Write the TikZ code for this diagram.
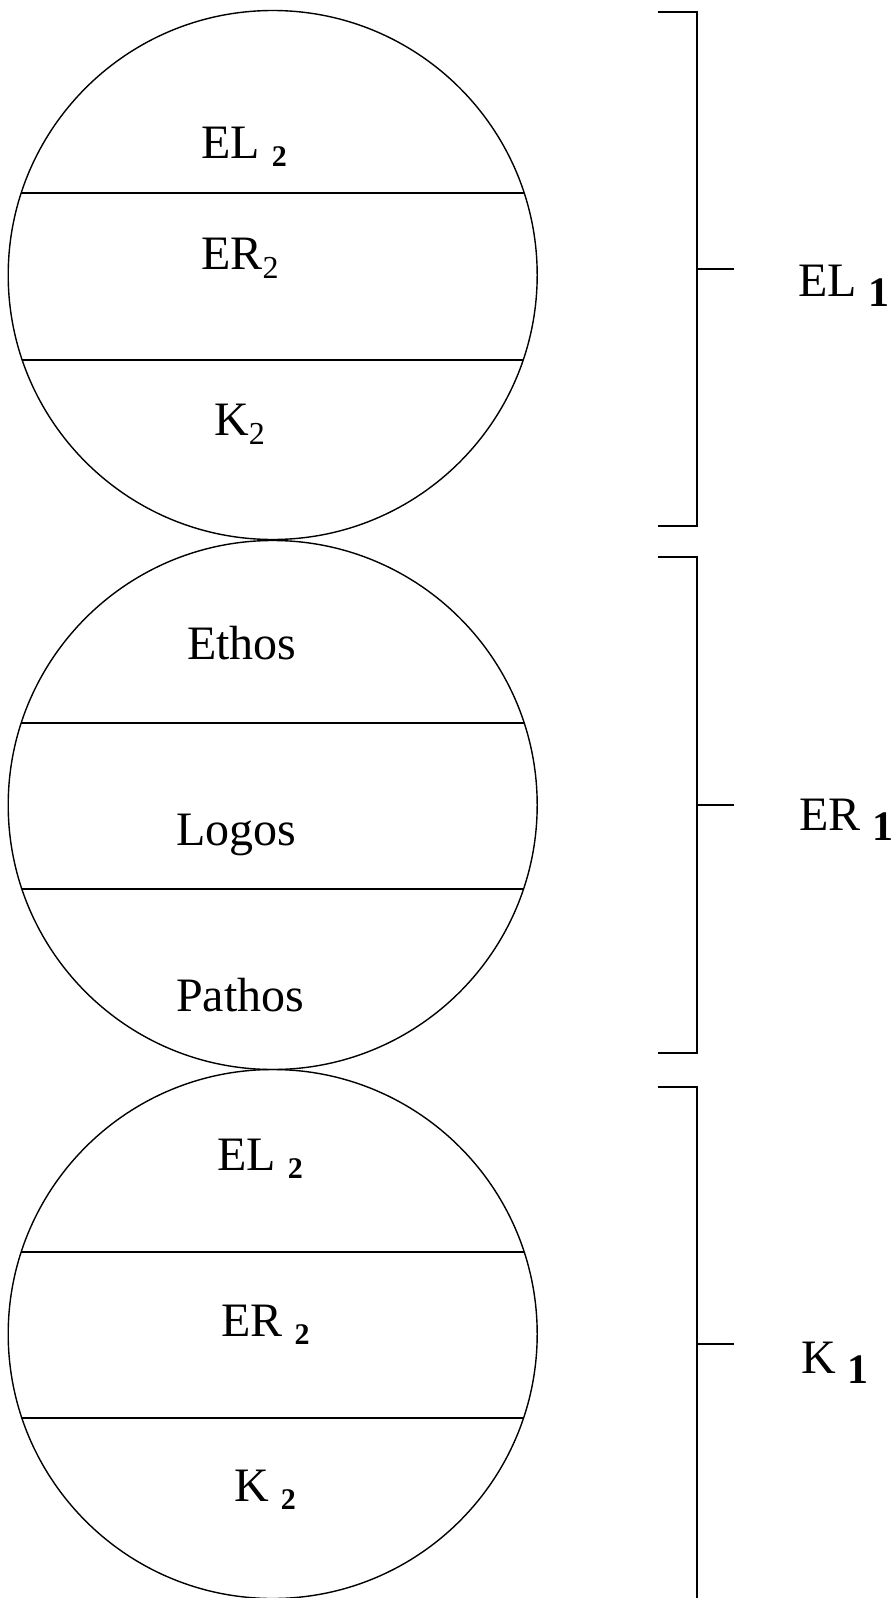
\documentclass[tikz,border=0pt]{standalone}
\usepackage{fontspec}
\setmainfont{Liberation Serif}
% bold, lowered index set after a label
\newcommand{\subb}[3][30]{\raisebox{-#3pt}{\fontsize{#1}{#1}\selectfont\bfseries #2}}
% plain, lowered index set right against a label
\newcommand{\subr}[1]{\raisebox{-9pt}{\fontsize{32}{32}\selectfont #1}}
\begin{document}
\begin{tikzpicture}[x=1pt,y=-1pt]
\useasboundingbox (0,0) rectangle (894,1598);
\tikzset{
  ring/.style={draw, line width=1.4pt, circle, minimum size=529pt, inner sep=0pt},
  divider/.style={line width=1.9pt},
  bracket/.style={line width=1.9pt},
  lbl/.style={anchor=base west, inner sep=0pt, font=\fontsize{48}{56}\selectfont},
}
% three discs, each cut into three bands
\node[ring] (c1) at (272.7,275) {};
\node[ring] (c2) at (272.7,805) {};
\node[ring] (c3) at (272.7,1334) {};
\begin{scope}
  \clip (272.7,275) circle (264.5);
  \draw[divider] (0,192.7) -- (894,192.7);
  \draw[divider] (0,359.8) -- (894,359.8);
\end{scope}
\begin{scope}
  \clip (272.7,805) circle (264.5);
  \draw[divider] (0,722.8) -- (894,722.8);
  \draw[divider] (0,889) -- (894,889);
\end{scope}
\begin{scope}
  \clip (272.7,1334) circle (264.5);
  \draw[divider] (0,1251.8) -- (894,1251.8);
  \draw[divider] (0,1418) -- (894,1418);
\end{scope}
% band labels
\node[lbl] (el2a) at (201,158) {EL \subb{2}{8}};
\node[lbl] (er2a) at (201,269) {ER\subr{2}};
\node[lbl] (k2a) at (214,435) {K\subr{2}};
\node[lbl] (ethos) at (187,659) {Ethos};
\node[lbl] (logos) at (176,845) {Logos};
\node[lbl] (pathos) at (176,1011) {Pathos};
\node[lbl] (el2c) at (217,1170) {EL \subb{2}{8}};
\node[lbl] (er2c) at (221,1336) {ER \subb{2}{8}};
\node[lbl] (k2c) at (234,1501) {K \subb{2}{8}};
% brackets on the right
\coordinate (b1t) at (657.5,12.2);
\coordinate (b1b) at (657.5,526);
\coordinate (b1m) at (697,269);
\coordinate (b1e) at (734,269);
\draw[bracket] (b1t) -- (697,12.2) -- (697,526) -- (b1b);
\draw[bracket] (b1m) -- (b1e);
\coordinate (b2t) at (657.5,556.6);
\coordinate (b2b) at (657.5,1053);
\coordinate (b2m) at (697,805);
\coordinate (b2e) at (734,805);
\draw[bracket] (b2t) -- (697,556.6) -- (697,1053) -- (b2b);
\draw[bracket] (b2m) -- (b2e);
\coordinate (b3t) at (657.5,1086.7);
\coordinate (b3b) at (697,1600);
\coordinate (b3m) at (697,1343.6);
\coordinate (b3e) at (734,1343.6);
\draw[bracket] (b3t) -- (697,1086.7) -- (b3b);
\draw[bracket] (b3m) -- (b3e);
% bracket labels
\node[lbl] (el1) at (798,296) {EL \subb[42]{1}{10}};
\node[lbl] (er1) at (799,830) {ER \subb[42]{1}{10}};
\node[lbl] (k1) at (801,1373) {K \subb[42]{1}{10}};
\end{tikzpicture}
\end{document}
